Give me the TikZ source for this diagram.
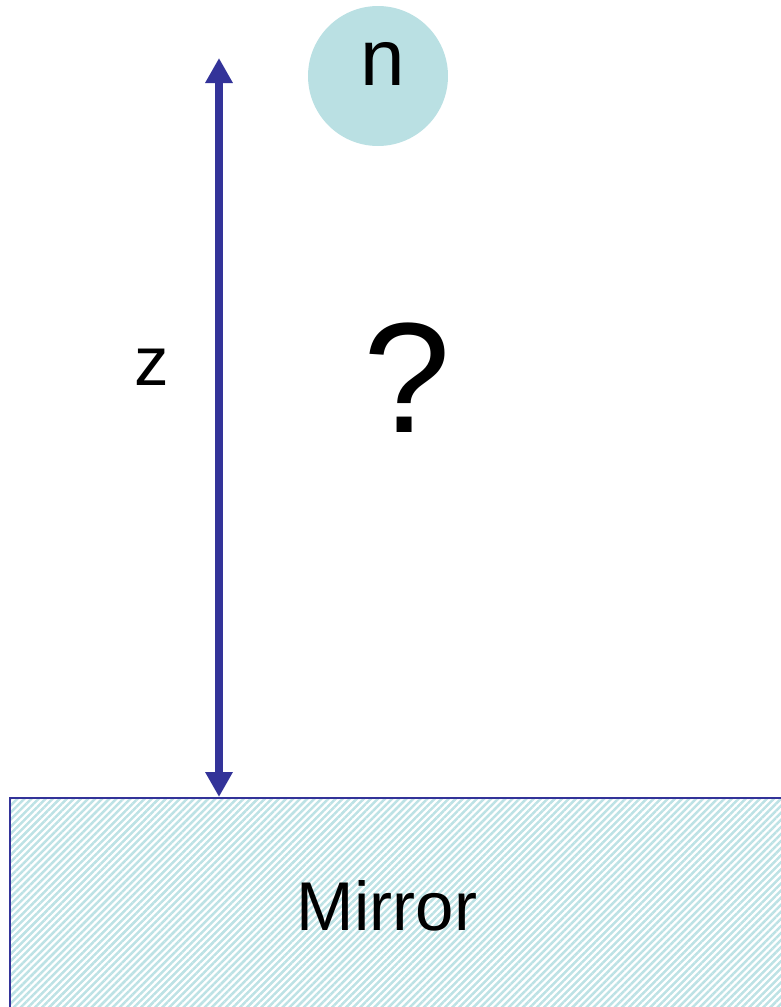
\documentclass[tikz,border=0pt]{standalone}
\usepackage{fontspec}
\setmainfont{Liberation Sans}
\usepackage{xcolor}
\usepackage{tikz}
\usetikzlibrary{arrows.meta,patterns.meta,positioning}

\definecolor{navy}{HTML}{333399}
\definecolor{ballblue}{HTML}{BAE0E3}
\definecolor{hatchblue}{HTML}{BDE2E5}

\tikzset{
  mirrorbox/.style={draw=navy, line width=2pt, inner sep=0pt,
    pattern={Lines[angle=45,distance=5pt,line width=2.5pt]}, pattern color=hatchblue},
  particle/.style={circle, fill=ballblue, minimum size=140pt, inner sep=0pt},
  distarrow/.style={draw=navy, line width=8pt,
    {Triangle[width=26pt,length=25pt]}-{Triangle[width=26pt,length=25pt]}}
}

\begin{document}
\begin{tikzpicture}[x=1pt,y=-1pt]
    \useasboundingbox (0,0) rectangle (780,1007);
    \node[mirrorbox, anchor=north west, minimum width=790pt, minimum height=220pt] (mirror) at (9,797) {};
    \node (mirrortext) at (387,906) {\fontsize{69}{72}\selectfont Mirror};
    \node[particle] (ball) at (378,76) {};
    \node (ntext) at (383,64) {\fontsize{80}{84}\selectfont n};
    \node (qmark) at (407,378) {\fontsize{157}{160}\selectfont ?};
    \node (ztext) at (152,367) {\fontsize{69}{72}\selectfont z};
    \coordinate (ztop) at (219,58);
    \coordinate (zbottom) at (mirror.north west -| ztop);
    \draw[distarrow] (zbottom) -- (ztop);
\end{tikzpicture}
\end{document}
